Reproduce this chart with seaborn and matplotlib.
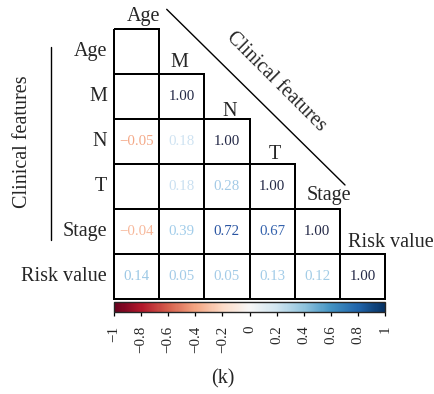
import numpy as np
import pandas as pd
import seaborn as sns
import matplotlib as mpl
import matplotlib.pyplot as plt
from matplotlib.colors import ListedColormap, Normalize
from matplotlib.lines import Line2D

# ---------------- data ----------------
features = ["Age", "M", "N", "T", "Stage", "Risk value"]
# lower triangle (including diagonal); None = blank cell
row_age = [None]
row_m = [None, 1.00]
row_n = [-0.05, 0.18, 1.00]
row_t = [None, 0.18, 0.28, 1.00]
row_stage = [-0.04, 0.39, 0.72, 0.67, 1.00]
row_risk = [0.14, 0.05, 0.05, 0.13, 0.12, 1.00]
rows = [row_age, row_m, row_n, row_t, row_stage, row_risk]

cbar_ticks = [-1, -0.8, -0.6, -0.4, -0.2, 0, 0.2, 0.4, 0.6, 0.8, 1]
cbar_labels = ["\u22121", "\u22120.8", "\u22120.6", "\u22120.4", "\u22120.2", "0",
               "0.2", "0.4", "0.6", "0.8", "1"]

# ---------------- styles ----------------
navy = "#232846"
text_colors = [
    [None],
    [None, navy],
    ["#f4a988", "#cfe3f2", navy],
    [None, "#cae0f1", "#a3cae6", navy],
    ["#f7b89b", "#a2cdea", "#2a55a2", "#3462ad", navy],
    ["#9cc8e5", "#a3cbe7", "#a3cbe7", "#a2cce8", "#a2cce6", navy],
]

sns.set_style("white")
plt.rcParams["font.family"] = ["Liberation Serif", "DejaVu Serif"]

n = len(features)
vals = np.zeros((n, n))
annot = np.full((n, n), "", dtype=object)
mask = np.triu(np.ones((n, n), dtype=bool), k=1)
for i, r in enumerate(rows):
    for j, v in enumerate(r):
        if v is not None:
            vals[i, j] = v
            annot[i, j] = f"{v:.2f}".replace("-", "\u2212")
df = pd.DataFrame(vals, index=features, columns=features)

W, H = 434, 394
fig = plt.figure(figsize=(W / 100, H / 100), dpi=100)

gx0, gx1, gy0, gy1 = 114, 385, 29.3, 299
ax = fig.add_axes([gx0 / W, 1 - gy1 / H, (gx1 - gx0) / W, (gy1 - gy0) / H])
sns.heatmap(df, mask=mask, cmap=ListedColormap(["white"]), cbar=False,
            annot=annot, fmt="", linewidths=1.1, linecolor="black",
            annot_kws={"fontsize": 10.7}, ax=ax)
mesh = ax.collections[0]
mesh.set_clip_on(False)
edge_cols = [(0, 0, 0, 0) if m else (0, 0, 0, 1) for m in mask.ravel()]
mesh.set_edgecolors(edge_cols)

# recolor annotations
for t in ax.texts:
    x, y = t.get_position()
    j, i = int(x), int(y)
    c = text_colors[i][j] if j < len(text_colors[i]) else None
    if c:
        t.set_color(c)

ax.set_xticks([])
ax.set_yticks(np.arange(n) + 0.5)
ax.set_yticklabels(features, rotation=0, fontsize=14.5)
ax.tick_params(axis="y", length=0, pad=5)
for s in ax.spines.values():
    s.set_visible(False)

cw = (gx1 - gx0) / n
ch = (gy1 - gy0) / n
dx_px = [7, -2.5, 2.5, 3, 11.5, 28]
gap_px = [8.6, 7.6, 3.7, 4.7, 9, 7.3]
for j, name in enumerate(features):
    ax.text(j + 0.5 + dx_px[j] / cw, j - gap_px[j] / ch, name,
            ha="center", va="baseline", fontsize=14.5, clip_on=False)

# colorbar
cb_y0, cb_y1 = 302.2, 311.5
cax = fig.add_axes([gx0 / W, 1 - cb_y1 / H, (gx1 - gx0) / W, (cb_y1 - cb_y0) / H])
cb = mpl.colorbar.ColorbarBase(cax, cmap=plt.get_cmap("RdBu"),
                               norm=Normalize(-1, 1), orientation="horizontal",
                               ticks=cbar_ticks)
cb.ax.set_xticklabels(cbar_labels, rotation=90, fontsize=10.8)
cb.ax.tick_params(axis="x", length=3, width=0.9, pad=7, color="black")
cb.outline.set_linewidth(1.0)

# left vertical label + line
fig.text(23 / W, 1 - 141.7 / H, "Clinical features", rotation=90,
         ha="center", va="center", fontsize=14.5)
fig.add_artist(Line2D([51 / W, 51 / W], [1 - 46.7 / H, 1 - 240 / H],
                      color="black", lw=1.0))

# diagonal label + line
fig.add_artist(Line2D([166.7 / W, 345 / W], [1 - 9.3 / H, 1 - 185 / H],
                      color="black", lw=1.0))
fig.text(275.7 / W, 1 - 81.7 / H, "Clinical features", rotation=-45,
         rotation_mode="anchor", ha="center", va="center", fontsize=14.5)

fig.text(222.8 / W, 1 - 379 / H, "(k)", ha="center", va="center", fontsize=14.5)

fig.savefig("out.png", dpi=100)
